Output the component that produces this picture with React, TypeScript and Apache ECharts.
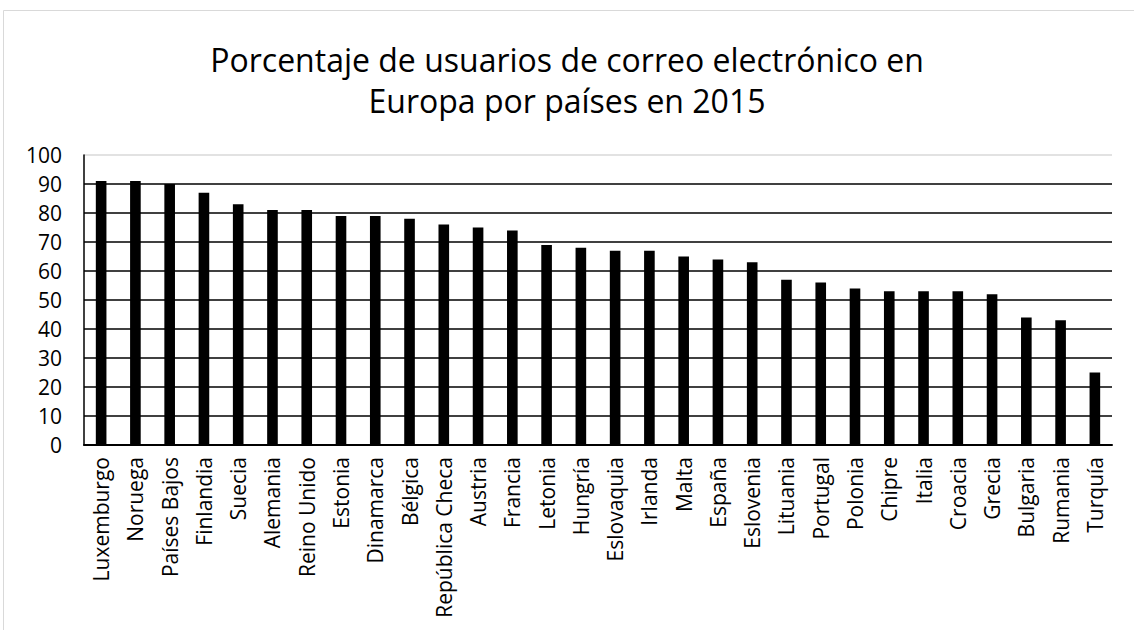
import React, { useEffect, useRef } from "react";
import * as echarts from "echarts";

const titleLines = ["Porcentaje de usuarios de correo electrónico en", "Europa por países en 2015"];
const countries = [
  "Luxemburgo", "Noruega", "Países Bajos", "Finlandia", "Suecia", "Alemania", "Reino Unido",
  "Estonia", "Dinamarca", "Bélgica", "República Checa", "Austria", "Francia", "Letonia",
  "Hungría", "Eslovaquia", "Irlanda", "Malta", "España", "Eslovenia", "Lituania", "Portugal",
  "Polonia", "Chipre", "Italia", "Croacia", "Grecia", "Bulgaria", "Rumania", "Turquía",
];
const percentages = [
  91, 91, 90, 87, 83, 81, 81, 79, 79, 78, 76, 75, 74, 69, 68, 67, 67, 65, 64, 63, 57, 56, 54,
  53, 53, 53, 52, 44, 43, 25,
];

const FONT = "'Open Sans', 'Noto Sans', sans-serif";

export default function App() {
  const ref = useRef<HTMLDivElement>(null);
  useEffect(() => {
    if (!ref.current) return;
    const chart = echarts.init(ref.current, null, { renderer: "svg" });
    const splitColors = Array.from({ length: 10 }, () => "#000000").concat(["#d9d9d9"]);
    chart.setOption({
      animation: false,
      backgroundColor: "#ffffff",
      title: {
        text: titleLines.join("\n"),
        left: "center",
        top: 34,
        textStyle: {
          fontFamily: FONT,
          fontSize: 32,
          fontWeight: "normal",
          color: "#000",
          lineHeight: 41,
        },
      },
      graphic: [
        {
          type: "rect",
          shape: { x: 3.5, y: 10.5, width: 1140, height: 640 },
          style: { fill: "none", stroke: "#d9d9d9", lineWidth: 1 },
          silent: true,
        },
      ],
      grid: { left: 84, top: 155, right: 22, bottom: 185, containLabel: false },
      xAxis: {
        type: "category",
        data: countries,
        axisLine: { show: true, lineStyle: { color: "#000", width: 2 } },
        axisTick: { show: false },
        axisLabel: {
          interval: 0,
          rotate: 90,
          margin: 12,
          fontFamily: FONT,
          fontSize: 21,
          color: "#000",
        },
      },
      yAxis: {
        type: "value",
        min: 0,
        max: 100,
        interval: 10,
        axisLine: { show: true, lineStyle: { color: "#000", width: 1.5 } },
        axisTick: { show: false },
        axisLabel: { fontFamily: FONT, fontSize: 21, color: "#000", margin: 22 },
        splitLine: { show: true, lineStyle: { color: splitColors, width: 1.5 } },
      },
      series: [
        {
          type: "bar",
          data: percentages,
          barWidth: "31%",
          itemStyle: { color: "#000000" },
        },
      ],
    });
    return () => chart.dispose();
  }, []);
  return (
    <div
      ref={ref}
      style={{ position: "fixed", left: 0, top: 0, width: 1134, height: 630 }}
    />
  );
}
